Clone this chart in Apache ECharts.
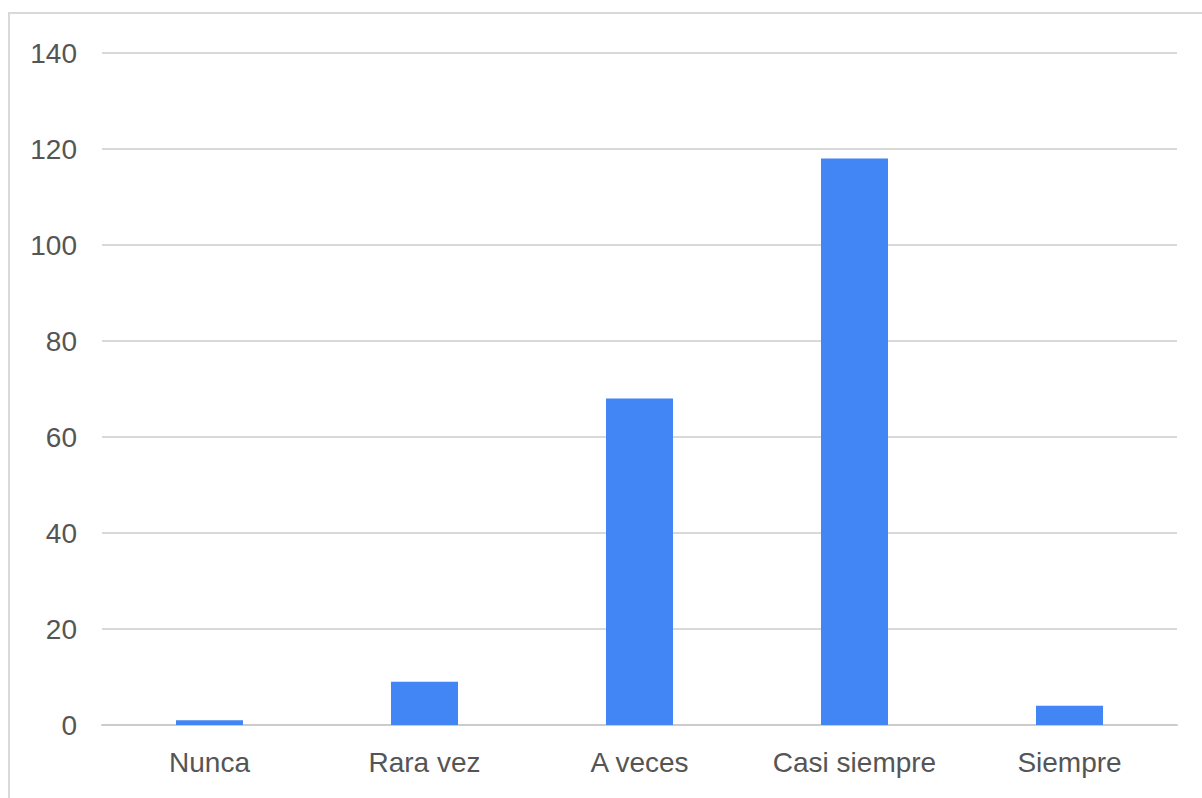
<!DOCTYPE html>
<html>
<head>
<meta charset="utf-8">
<script src="https://cdn.jsdelivr.net/npm/echarts@6/dist/echarts.min.js"></script>
<style>
  html, body { margin: 0; padding: 0; background: #fff; }
  #frame {
    position: absolute; left: 8px; top: 12px; right: 0; bottom: 0;
    border-top: 2px solid #d9d9d9; border-left: 2px solid #d9d9d9;
  }
  #chart { position: absolute; left: 0; top: 0; width: 1202px; height: 798px; }
</style>
</head>
<body>
<div id="frame"></div>
<div id="chart"></div>
<script>
// Response frequency counts
const categories = ['Nunca', 'Rara vez', 'A veces', 'Casi siempre', 'Siempre'];
const counts = [1, 9, 68, 118, 4];
const yTicks = { min: 0, max: 140, interval: 20 };

const chart = echarts.init(document.getElementById('chart'), null, { renderer: 'svg' });
const font = 'Liberation Sans, Arial, sans-serif';

chart.setOption({
  animation: false,
  grid: { left: 102, right: 25, top: 53, bottom: 73 },
  xAxis: {
    type: 'category',
    data: categories,
    axisLine: { show: true, lineStyle: { color: '#cccccc', width: 2 } },
    axisTick: { show: false },
    axisLabel: { color: '#555555', fontSize: 28, fontFamily: font, margin: 23 }
  },
  yAxis: {
    type: 'value',
    min: yTicks.min, max: yTicks.max, interval: yTicks.interval,
    axisLine: { show: false },
    axisTick: { show: false },
    splitLine: { lineStyle: { color: '#d9d9d9', width: 2 } },
    axisLabel: { color: '#555555', fontSize: 28, fontFamily: font, margin: 25 }
  },
  series: [{
    type: 'bar',
    data: counts,
    barWidth: 67,
    itemStyle: { color: '#4285f4' }
  }]
});
</script>
</body>
</html>
